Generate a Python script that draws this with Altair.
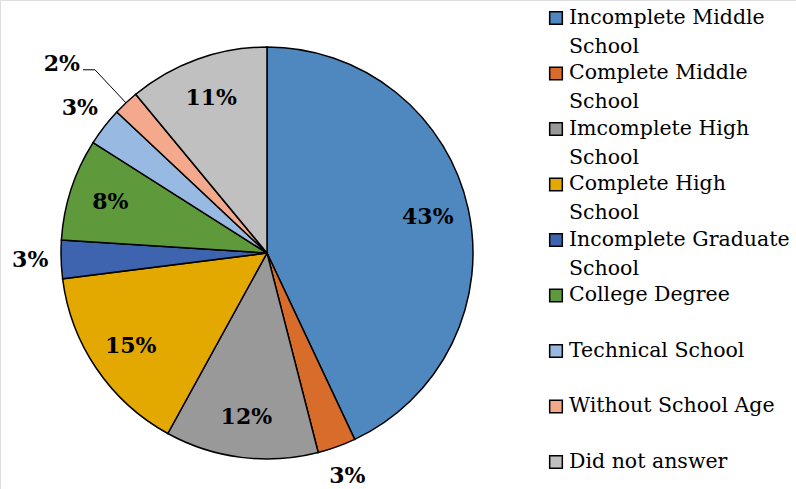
import altair as alt
import numpy as np
import pandas as pd

categories = [
    "Incomplete Middle School",
    "Complete Middle School",
    "Imcomplete High School",
    "Complete High School",
    "Incomplete Graduate School",
    "College Degree",
    "Technical School",
    "Without School Age",
    "Did not answer",
]
legend_labels = [
    "Incomplete Middle\nSchool",
    "Complete Middle\nSchool",
    "Imcomplete High\nSchool",
    "Complete High\nSchool",
    "Incomplete Graduate\nSchool",
    "College Degree",
    "Technical School",
    "Without School Age",
    "Did not answer",
]
values = [43, 3, 12, 15, 3, 8, 3, 2, 11]
colors = ["#4F88BF", "#D86C2A", "#999999", "#E4A900", "#3E64B0",
          "#5E993C", "#98B9E2", "#F4A98C", "#C0C0C0"]

W, H = 796, 489
CX, CY, R = 267, 253, 206
FONT = "DejaVu Serif"

vals = np.array(values, dtype=float)
cum = np.cumsum(vals) - vals / 2
ang = cum / vals.sum() * 2 * np.pi
lr = np.where(vals <= 2, 0, np.where(vals <= 3, 1.15, 0.8))

df = pd.DataFrame({"cat": categories, "value": values, "idx": range(len(values))})
df["label"] = [f"{v}%" for v in values]

lab = df[lr > 0].copy()
lab["x"] = CX + (lr[lr > 0] * R) * np.sin(ang[lr > 0])
lab["y"] = CY - (lr[lr > 0] * R) * np.cos(ang[lr > 0])

k = int(np.argmin(vals))
a = ang[k]
p0 = (CX + R * np.sin(a), CY - R * np.cos(a))
p1 = (CX + 1.22 * R * np.sin(a), CY - 1.22 * R * np.cos(a))
p2 = (p1[0] - 12, p1[1])
leader = pd.DataFrame({"x": [p0[0], p1[0], p2[0]], "y": [p0[1], p1[1], p2[1]], "o": [0, 1, 2]})
lead_lab = pd.DataFrame({"x": [p2[0] - 3], "y": [p2[1] - 6], "label": [df["label"][k]]})

leg = pd.DataFrame({"cat": categories, "text": legend_labels, "i": range(len(categories))})
leg["y"] = 18 + leg["i"] * 55.5
leg["ytop"] = leg["y"] - 10.5
leg["sx"] = 556
leg["tx"] = 569

xs = alt.Scale(domain=[0, W], range=[0, W])
ys = alt.Scale(domain=[0, H], range=[0, H])
cscale = alt.Scale(domain=categories, range=colors)

pie = alt.Chart(df).mark_arc(radius=R, stroke="black", strokeWidth=1.5).encode(
    theta=alt.Theta("value:Q", stack=True),
    color=alt.Color("cat:N", scale=cscale, legend=None),
    order=alt.Order("idx:Q"),
    x=alt.value(CX),
    y=alt.value(CY),
)

labels = alt.Chart(lab).mark_text(
    font=FONT, fontSize=22, fontWeight="bold", color="black", baseline="middle", align="center"
).encode(
    x=alt.X("x:Q", scale=xs, axis=None),
    y=alt.Y("y:Q", scale=ys, axis=None),
    text="label:N",
)

lead = alt.Chart(leader).mark_line(color="black", strokeWidth=1).encode(
    x=alt.X("x:Q", scale=xs, axis=None),
    y=alt.Y("y:Q", scale=ys, axis=None),
    order="o:Q",
)
lead_text = alt.Chart(lead_lab).mark_text(
    font=FONT, fontSize=22, fontWeight="bold", color="black", baseline="middle", align="right"
).encode(
    x=alt.X("x:Q", scale=xs, axis=None),
    y=alt.Y("y:Q", scale=ys, axis=None),
    text="label:N",
)

sym = alt.Chart(leg).mark_square(size=160, stroke="black", strokeWidth=1.5, opacity=1).encode(
    x=alt.X("sx:Q", scale=xs, axis=None),
    y=alt.Y("y:Q", scale=ys, axis=None),
    color=alt.Color("cat:N", scale=cscale, legend=None),
)
legtext = alt.Chart(leg).mark_text(
    font=FONT, fontSize=20.5, color="black", align="left", baseline="top", lineBreak="\n", lineHeight=29
).encode(
    x=alt.X("tx:Q", scale=xs, axis=None),
    y=alt.Y("ytop:Q", scale=ys, axis=None),
    text="text:N",
)

chart = alt.layer(pie, lead, labels, lead_text, sym, legtext).properties(
    width=W, height=H, padding=0, autosize=alt.AutoSizeParams(type="none")
).configure_view(stroke=None).configure(background="white")

chart.save("out.html", embed_options={"renderer": "svg", "actions": False})
